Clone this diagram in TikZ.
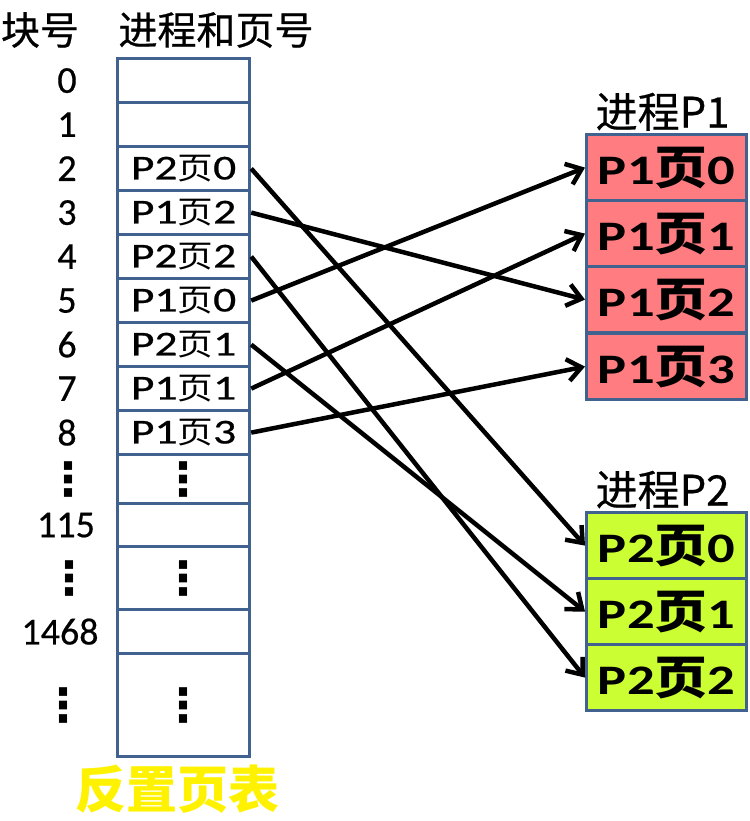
\documentclass[tikz,border=0pt]{standalone}
\usepackage{fontspec}
\setmainfont{Carlito}[UprightFeatures={FakeBold=0.5}]
\newfontfamily\cjk{Noto Sans CJK SC}[UprightFeatures={FakeBold=0.6}]
\newfontfamily\widecjk{Noto Sans CJK SC}[FakeStretch=1.15]
\newfontfamily\wide{Carlito}[FakeStretch=1.3, UprightFeatures={FakeBold=0.6}]
\newfontfamily\dotfont{DejaVu Sans}
\usetikzlibrary{arrows.meta,positioning}

\definecolor{frame}{HTML}{41618F}
\definecolor{pone}{HTML}{FF7C80}
\definecolor{ptwo}{HTML}{CCFF33}

\newcommand\pg[2]{P#1{\widecjk\pgcjk 页}#2}
\newcommand\vd{{\dotfont\bfseries\fontsize{46}{46}\selectfont ⋮}}

\begin{document}
\begin{tikzpicture}[x=1pt, y=-1pt,
    cell/.style={draw=frame, line width=3.2pt, minimum width=132pt, inner sep=0pt, anchor=north west,
      font=\wide\fontsize{35}{40}\selectfont\def\pgcjk{\fontsize{31}{36}\selectfont}},
    pgcell/.style={draw=frame, line width=3.2pt, minimum width=160pt, minimum height=66pt, inner sep=0pt, anchor=north west,
      font=\wide\bfseries\fontsize{42}{48}\selectfont\def\pgcjk{\fontsize{46}{50}\selectfont}},
    blk/.style={font=\fontsize{38}{40}\selectfont, inner sep=0pt},
    head/.style={font=\cjk\fontsize{39}{42}\selectfont, inner sep=0pt},
    proc/.style={font=\cjk\fontsize{42}{46}\selectfont, inner sep=1pt},
    link/.style={line width=4.5pt, -{Straight Barb[length=14pt,width=22pt]}},
]
\useasboundingbox (0,0) rectangle (749,821);

% headers
\node[head] (blkhd) at (40,30) {块号};
\node[head] (tblhd) at (216,30) {进程和页号};

% inverted page table
\foreach \n/\top/\h/\txt in {0/57/44/{}, 1/101/44/{}, 2/145/44/{\pg20}, 3/189/44/{\pg12},
    4/233/44/{\pg22}, 5/277/44/{\pg10}, 6/321/44/{\pg21}, 7/365/44/{\pg11}, 8/409/44/{\pg13},
    9/453/49/{\vd}, 10/502/43/{}, 11/545/63/{\vd}, 12/608/44/{}, 13/652/103/{\vd}}
  \node[cell, minimum height=\h pt] (t\n) at (116,\top) {\txt};

% frame numbers
\foreach \n/\x/\lab in {0/67/0, 1/67/1, 2/67/2, 3/67/3, 4/67/4, 5/67/5, 6/67/6, 7/67/7, 8/67/8,
    9/68/\vd, 10/66/115, 11/69/\vd, 12/60/1468, 13/63/\vd}
  \node[blk] (b\n) at (\x,0 |- t\n) {\lab};

\node[font=\cjk\bfseries\fontsize{51}{54}\selectfont, text=yellow, inner sep=0pt,
  below=6pt of t13, xshift=-6pt] (invtbl) {反置页表};

% process pages
\foreach \k/\top in {0/133, 1/199, 2/265, 3/332}
  \node[pgcell, fill=pone] (pa\k) at (585,\top) {\pg1\k};
\foreach \k/\top in {0/511, 1/577, 2/643}
  \node[pgcell, fill=ptwo] (pb\k) at (585,\top) {\pg2\k};

\node[proc, above=1pt of pa0, xshift=-4pt] (pahd) {进程P1};
\node[proc, above=1pt of pb0, xshift=-4pt] (pbhd) {进程P2};

% mapping
\foreach \s/\d in {2/pb0, 3/pa2, 4/pb2, 5/pa0, 6/pb1, 7/pa1, 8/pa3}
  \draw[link] (t\s.east) -- (\d.west);
\end{tikzpicture}
\end{document}
